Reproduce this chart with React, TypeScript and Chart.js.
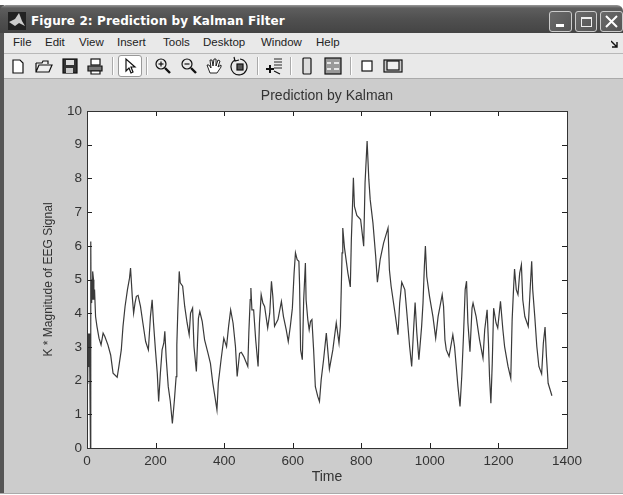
import React, { useEffect, useRef } from "react";
import { Chart, registerables } from "chart.js";

Chart.register(...registerables);

const chartTitle = "Prediction by Kalman";
const xAxisTitle = "Time";
const yAxisTitle = "K * Magnitude of EEG Signal";
const windowTitle = "Figure 2: Prediction by Kalman Filter";
const menuItems = ["File", "Edit", "View", "Insert", "Tools", "Desktop", "Window", "Help"];
const menuX = [13, 45, 79, 117, 163, 203, 261, 316];
const xTicks = [0, 200, 400, 600, 800, 1000, 1200, 1400];
const yTicks = [0, 1, 2, 3, 4, 5, 6, 7, 8, 9, 10];

const times = [
  2, 3, 5, 6, 8, 10, 11, 12, 13, 14, 15, 16, 17, 19, 20, 22, 25, 29, 35, 41, 47, 52, 61, 69, 76, 88, 93, 100, 105, 111, 118, 124, 127, 132,
  136, 140, 144, 149, 156, 163, 171, 179, 185, 190, 194, 200, 205, 209, 214, 219, 224, 227, 231, 237, 243, 249, 255, 260, 262, 265, 269, 272, 279, 285,
  292, 298, 302, 308, 312, 319, 325, 329, 336, 343, 353, 360, 367, 373, 379, 383, 391, 399, 407, 413, 419, 426, 433, 438, 445, 450, 457, 469, 472, 476,
  478, 481, 486, 492, 499, 503, 508, 513, 518, 527, 533, 538, 542, 547, 557, 567, 573, 581, 587, 593, 599, 604, 608, 613, 618, 620, 623, 628, 632, 637,
  639, 644, 648, 652, 656, 661, 666, 673, 678, 683, 690, 698, 707, 717, 727, 735, 739, 742, 744, 746, 751, 761, 768, 771, 774, 777, 780, 787, 798, 807,
  811, 817, 822, 826, 834, 842, 847, 855, 865, 878, 882, 887, 897, 907, 912, 918, 927, 933, 941, 947, 952, 957, 962, 968, 976, 980, 984, 987, 991, 999,
  1009, 1017, 1024, 1036, 1040, 1044, 1048, 1056, 1067, 1072, 1077, 1082, 1088, 1093, 1098, 1103, 1107, 1111, 1117, 1123, 1126, 1135, 1145, 1155, 1160, 1167, 1171, 1174, 1178, 1182,
  1186, 1193, 1198, 1206, 1213, 1218, 1228, 1236, 1240, 1244, 1247, 1252, 1257, 1262, 1267, 1271, 1277, 1287, 1293, 1297, 1300, 1306, 1312, 1318, 1326, 1331, 1336, 1340, 1345, 1351, 1356,
];
const magnitudes = [
  1.9, 3.4, 2.4, 3.4, 2.5, 0, 6.13, 4.4, 5.0, 4.3, 5.0, 4.4, 5.24, 4.99, 4.4, 4.7, 3.9, 3.61, 3.26, 3.06, 3.41, 3.31, 3.06, 2.76, 2.22, 2.1, 2.42, 2.91, 3.61, 4.2, 4.7, 5.04, 5.34, 4.5,
  4.0, 4.3, 4.5, 4.53, 4.2, 3.71, 3.16, 2.91, 3.9, 4.4, 3.71, 2.86, 2.22, 1.38, 2.22, 2.91, 3.11, 3.46, 2.67, 1.82, 1.38, 0.73, 1.43, 2.12, 3.06, 4.1, 5.24, 4.9, 4.8, 4.2,
  3.71, 3.36, 4.0, 4.15, 3.01, 2.27, 3.85, 4.05, 3.76, 3.21, 2.81, 2.51, 1.92, 1.53, 1.13, 1.92, 2.62, 3.26, 3.01, 3.61, 4.1, 3.71, 3.01, 2.12, 2.81, 2.84, 2.72, 2.42, 3.41, 4.4,
  4.75, 4.1, 4.1, 3.21, 2.42, 3.71, 4.55, 4.3, 4.2, 3.56, 4.0, 4.95, 4.5, 3.61, 3.81, 4.35, 3.9, 3.51, 3.16, 3.61, 4.15, 5.19, 5.79, 5.59, 5.54, 4.85, 2.91, 2.62, 4.4, 5.49,
  4.4, 3.81, 3.51, 3.76, 3.81, 2.91, 1.82, 1.53, 1.38, 2.02, 2.62, 3.41, 2.34, 2.91, 3.71, 3.11, 3.61, 4.9, 5.79, 6.53, 5.94, 5.19, 4.78, 6.18, 7.08, 8.02, 7.17, 6.9, 6.78, 5.99,
  7.87, 9.11, 7.97, 7.37, 6.68, 5.69, 4.92, 5.59, 6.08, 6.53, 5.29, 4.8, 4.1, 3.36, 4.3, 4.92, 4.7, 4.0, 3.01, 2.42, 3.41, 4.32, 3.41, 2.62, 3.61, 4.3, 5.39, 5.99, 5.09, 4.5,
  3.9, 3.26, 3.9, 4.55, 4.2, 3.21, 2.91, 2.72, 3.36, 3.01, 2.42, 1.82, 1.23, 2.12, 3.31, 4.7, 4.95, 3.71, 2.86, 4.15, 4.3, 3.9, 3.21, 2.67, 3.51, 4.1, 3.11, 2.12, 1.33, 2.52,
  4.15, 3.71, 3.56, 4.35, 3.51, 3.01, 2.42, 2.07, 3.81, 4.7, 5.31, 4.7, 4.55, 5.19, 5.44, 4.4, 3.9, 3.61, 4.8, 5.54, 4.7, 3.9, 3.01, 2.42, 2.2, 3.11, 3.59, 2.72, 1.92, 1.72, 1.55,
];

const plotLeft = 87;
const plotRight = 567;
const plotTop = 111;
const plotBottom = 448;
const axisFont = '"Liberation Sans", Arial, sans-serif';

const innerTicks = {
  id: "innerTicks",
  afterDatasetsDraw(chart: any) {
    const { ctx, chartArea: a, scales } = chart;
    ctx.save();
    ctx.strokeStyle = "#222";
    ctx.lineWidth = 1;
    ctx.beginPath();
    scales.x.ticks.forEach((_: any, i: number) => {
      const p = Math.round(scales.x.getPixelForTick(i)) + 0.5;
      ctx.moveTo(p, a.bottom);
      ctx.lineTo(p, a.bottom - 5);
      ctx.moveTo(p, a.top);
      ctx.lineTo(p, a.top + 5);
    });
    scales.y.ticks.forEach((_: any, i: number) => {
      const p = Math.round(scales.y.getPixelForTick(i)) + 0.5;
      ctx.moveTo(a.left, p);
      ctx.lineTo(a.left + 5, p);
      ctx.moveTo(a.right, p);
      ctx.lineTo(a.right - 5, p);
    });
    ctx.stroke();
    ctx.strokeStyle = "#333";
    ctx.strokeRect(a.left + 0.5, a.top + 0.5, a.right - a.left, a.bottom - a.top);
    ctx.restore();
  },
};

const whitePlot = {
  id: "whitePlot",
  beforeDraw(chart: any) {
    const { ctx, chartArea: a } = chart;
    ctx.save();
    ctx.fillStyle = "#fff";
    ctx.fillRect(a.left, a.top, a.right - a.left, a.bottom - a.top);
    ctx.restore();
  },
};

const S = (p: { x: number; children: React.ReactNode }) => (
  <svg
    width={20}
    height={20}
    viewBox="0 0 20 20"
    style={{ position: "absolute", left: p.x - 10, top: 56 }}
    fill="none"
    stroke="#111"
    strokeWidth={1.2}
  >
    {p.children}
  </svg>
);

const Sep = (p: { x: number }) => (
  <div style={{ position: "absolute", left: p.x, top: 57, width: 1, height: 18, background: "#aaa", borderRight: "1px solid #fff" }} />
);

const Magnifier = (p: { x: number; plus?: boolean }) => (
  <S x={p.x}>
    <circle cx={8} cy={8} r={5} />
    <path d="M12 12 L17 17" strokeWidth={2.4} />
    <path d="M5.5 8 H10.5" />
    {p.plus && <path d="M8 5.5 V10.5" />}
  </S>
);

const WinButton = (p: { x: number; w: number; children: React.ReactNode }) => (
  <div
    style={{
      position: "absolute",
      left: p.x,
      top: 11,
      width: p.w,
      height: 21,
      borderRadius: 3,
      border: "1px solid #ccc",
      background: "linear-gradient(135deg,#6a6a6a,#555)",
      boxSizing: "border-box",
    }}
  >
    {p.children}
  </div>
);

export default function App() {
  const ref = useRef<HTMLCanvasElement>(null);

  useEffect(() => {
    const chart = new Chart(ref.current!, {
      type: "line",
      data: {
        datasets: [
          {
            data: times.map((t, i) => ({ x: t, y: magnitudes[i] })),
            borderColor: "#3a3a3a",
            borderWidth: 1.2,
            pointRadius: 0,
            tension: 0,
          },
        ],
      },
      plugins: [whitePlot, innerTicks],
      options: {
        responsive: false,
        animation: false,
        layout: { padding: { left: 41, right: 623 - plotRight, top: plotTop - 22.8, bottom: 9 } },
        plugins: {
          legend: { display: false },
          tooltip: { enabled: false },
          title: {
            display: true,
            text: chartTitle,
            color: "#333",
            fullSize: false,
            font: { family: axisFont, size: 14, weight: "normal" },
            padding: { top: 0, bottom: 6 },
          },
        },
        scales: {
          x: {
            type: "linear",
            min: 0,
            max: 1400,
            grid: { display: false, tickLength: 0 },
            border: { display: false },
            afterFit: (s: any) => {
              s.height = 495 - 9 - plotBottom;
            },
            afterBuildTicks: (s: any) => {
              s.ticks = xTicks.map((value) => ({ value }));
            },
            ticks: {
              color: "#333",
              maxRotation: 0,
              padding: 5,
              font: { family: axisFont, size: 13.5 },
              callback: (v: any) => String(v),
            },
            title: {
              display: true,
              text: xAxisTitle,
              color: "#333",
              font: { family: axisFont, size: 14 },
              padding: { top: 0, bottom: 0 },
            },
          },
          y: {
            min: 0,
            max: 10,
            grid: { display: false, tickLength: 0 },
            border: { display: false },
            afterFit: (s: any) => {
              s.width = plotLeft - 41;
            },
            afterBuildTicks: (s: any) => {
              s.ticks = yTicks.map((value) => ({ value }));
            },
            ticks: { color: "#333", padding: 5, font: { family: axisFont, size: 13.5 } },
            title: {
              display: true,
              text: yAxisTitle,
              color: "#333",
              font: { family: axisFont, size: 12 },
              padding: { top: 0, bottom: 0 },
            },
          },
        },
      },
    } as any);
    return () => chart.destroy();
  }, []);

  return (
    <div style={{ position: "fixed", left: 0, top: 0, width: 623, height: 495, background: "#fff", overflow: "hidden", filter: "blur(0.4px)" }}>
      <div style={{ position: "absolute", left: 4, right: 0, top: 79, height: 414, background: "#cccccc" }} />
      <div style={{ position: "absolute", left: 0, top: 33, width: 623, height: 46, background: "#e9e9e9" }} />
      <div style={{ position: "absolute", left: 0, top: 5, width: 4, height: 488, background: "#555" }} />
      <div style={{ position: "absolute", left: 0, top: 493, width: 623, height: 1, background: "#aaa" }} />
      <div
        style={{
          position: "absolute",
          left: 0,
          top: 5,
          width: 623,
          height: 28,
          borderRadius: "6px 6px 0 0",
          background: "linear-gradient(#9a9a9a 0,#5e5e5e 3px,#505050 50%,#444 100%)",
        }}
      />
      <svg width={18} height={18} viewBox="0 0 18 18" style={{ position: "absolute", left: 8, top: 12 }}>
        <rect width={18} height={18} fill="#222" />
        <path d="M1 10 L7 7 L11 1 L14 9 L17 14 L11 11 L7 14 Z" fill="#ccc" />
      </svg>
      <div
        style={{
          position: "absolute",
          left: 31,
          top: 14,
          color: "#fff",
          font: 'bold 12px "DejaVu Sans", Verdana, sans-serif',
          letterSpacing: 0.1,
          whiteSpace: "nowrap",
        }}
      >
        {windowTitle}
      </div>
      <WinButton x={549} w={23}>
        <div style={{ position: "absolute", left: 6, top: 12, width: 8, height: 3, background: "#fff" }} />
      </WinButton>
      <WinButton x={575} w={22}>
        <div style={{ position: "absolute", left: 5, top: 5, width: 11, height: 10, border: "1px solid #eee", borderTopWidth: 2, boxSizing: "border-box" }} />
      </WinButton>
      <WinButton x={600} w={23}>
        <svg width={21} height={19} style={{ position: "absolute", left: 0, top: 0 }}>
          <path d="M5 4 L16 15 M16 4 L5 15" stroke="#fff" strokeWidth={2} />
        </svg>
      </WinButton>

      <div style={{ position: "absolute", left: 4, top: 53, width: 619, height: 1, background: "#b8b8b8" }} />
      <div style={{ position: "absolute", left: 4, top: 78, width: 619, height: 1, background: "#aaa" }} />
      {menuItems.map((m, i) => (
        <div
          key={m}
          style={{
            position: "absolute",
            left: menuX[i],
            top: 36,
            color: "#222",
            font: '11.5px "Liberation Sans", Arial, sans-serif',
            whiteSpace: "nowrap",
          }}
        >
          {m}
        </div>
      ))}
      <svg width={8} height={8} style={{ position: "absolute", left: 611, top: 40 }}>
        <path d="M0 1 L6 7 M6 2 V7 H1" stroke="#111" strokeWidth={1.4} fill="none" />
      </svg>

      <S x={18}>
        <path d="M5 4 H12 L15 7 V17 H5 Z" fill="#fff" />
      </S>
      <S x={44}>
        <path d="M2 7 H8 L9 5 H14 V8 M2 7 V16 H15 L18 9 H5 L2 16" fill="#eee" />
      </S>
      <S x={70}>
        <rect x={3} y={3} width={14} height={14} fill="#333" />
        <rect x={6} y={4} width={8} height={5} fill="#ddd" stroke="none" />
        <rect x={6} y={12} width={7} height={5} fill="#ccc" stroke="none" />
      </S>
      <S x={95}>
        <rect x={6} y={3} width={9} height={6} fill="#fff" />
        <path d="M3 10 H17 V15 H3 Z" fill="#777" />
        <path d="M6 15 H15 V18 H6 Z" fill="#fff" />
      </S>
      <Sep x={112} />
      <div style={{ position: "absolute", left: 118, top: 55, width: 24, height: 22, background: "#fff", border: "1px solid #999", borderRadius: 3, boxSizing: "border-box" }} />
      <S x={130}>
        <path d="M6 3 V15 L9 12 L11 17 L13 16 L11 11 H15 Z" fill="#fff" />
      </S>
      <Sep x={146} />
      <Magnifier x={163} plus />
      <Magnifier x={189} />
      <S x={214}>
        <path d="M6 17 L3 9 L5 9 L7 12 L6 4 L8 4 L9 10 L10 3 L12 3 L12 10 L14 4 L16 5 L14 11 L17 9 L17 11 L13 17 Z" fill="#fff" strokeWidth={0.9} />
      </S>
      <S x={240}>
        <path d="M5 4 A8 8 0 1 0 10 3" />
        <path d="M4 1 L5 5 L9 4" />
        <rect x={7} y={8} width={6} height={6} fill="#555" />
      </S>
      <Sep x={257} />
      <S x={274}>
        <path d="M10 3 H18 M10 6 H18 M10 9 H18 M10 12 H18" strokeWidth={0.9} />
        <path d="M6 9 V17 M2 13 H10" strokeWidth={2} />
        <path d="M10 15 L16 18" />
      </S>
      <Sep x={290} />
      <S x={307}>
        <rect x={6} y={2} width={8} height={16} fill="#ddd" rx={1} />
      </S>
      <S x={333}>
        <rect x={2} y={2} width={16} height={16} fill="#999" />
        <path d="M4 7 H8 M4 13 H8 M11 7 H16 M11 13 H16" stroke="#fff" strokeWidth={1.5} />
      </S>
      <Sep x={350} />
      <S x={367}>
        <rect x={5} y={5} width={10} height={10} fill="#fff" />
      </S>
      <S x={393}>
        <rect x={1} y={4} width={18} height={12} fill="#ccc" />
        <rect x={4} y={5} width={12} height={9} fill="#eee" />
      </S>

      <canvas ref={ref} width={623} height={495} style={{ position: "absolute", left: 0, top: 0, display: "block" }} />
    </div>
  );
}
